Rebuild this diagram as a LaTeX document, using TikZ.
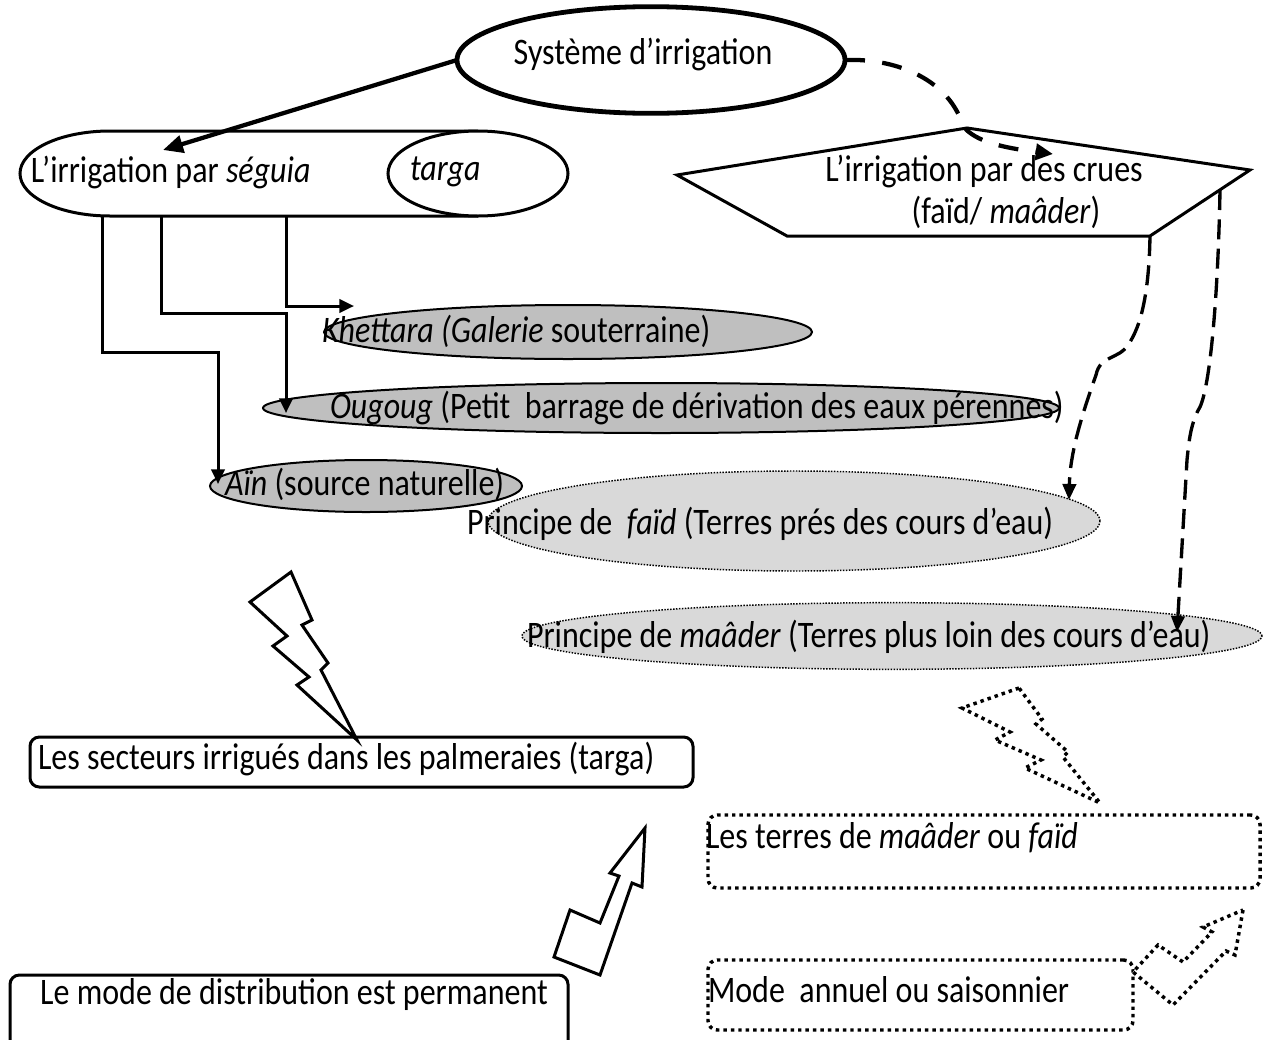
\documentclass[tikz,border=0pt]{standalone}
\usepackage{fontspec}
\usepackage{graphicx}
\setmainfont{Carlito}
\usetikzlibrary{arrows.meta,shapes.geometric,calc}
\definecolor{gA}{RGB}{191,191,191}
\definecolor{gB}{RGB}{217,217,217}
\newcommand{\tx}[1]{\scalebox{1}[1.17]{#1}}
\begin{document}
\begin{tikzpicture}[x=0.75pt,y=-0.75pt,
  font=\fontsize{24}{30}\selectfont,
  every node/.style={inner sep=0pt,outer sep=0pt},
  ellA/.style={ellipse,draw,line width=1.5pt,fill=gA},
  ellB/.style={ellipse,draw,line width=1.1pt,fill=gB,dash pattern=on 1.1pt off 1.1pt},
  conn/.style={line width=2.25pt,-{Triangle[length=11pt,width=10pt]}},
  dconnA/.style={line width=3.2pt,dash pattern=on 15pt off 13pt,-{Triangle[length=13pt,width=12pt]}},
  dconnB/.style={line width=2.5pt,dash pattern=on 15pt off 7pt,-{Triangle[length=12pt,width=10pt]}},
  rbox/.style={draw,rounded corners=7pt,line width=2.25pt},
  dbox/.style={draw,rounded corners=7pt,line width=2.6pt,dash pattern=on 2.6pt off 3pt},
  txt/.style={anchor=west},
  boltS/.style={draw,line width=2.25pt,fill=white,line join=miter},
  boltD/.style={draw,line width=2.6pt,fill=white,line join=miter,dash pattern=on 2.6pt off 3pt}]
\useasboundingbox (0,0) rectangle (1263,1039);
\clip (0,0) rectangle (1263,1039);

% top ellipse
\node[ellipse,draw,line width=3.6pt,minimum width=291pt,minimum height=80pt] (sys) at (651,60) {};
\node (sysT) at (643,55) {\tx{Système d’irrigation}};

% seguia cylinder
\node[minimum width=342pt,minimum height=64pt] (seguia) at (294,173.5) {};
\draw[line width=2.25pt] (478,131) -- (110,131) arc[start angle=270,end angle=90,x radius=90,y radius=42.5] -- (478,216);
\node[ellipse,draw,line width=2.25pt,fill=white,minimum width=135pt,minimum height=63.75pt] (targa) at (478,173.5) {};
\node[txt] (seguiaT) at (31,173) {\tx{L’irrigation par \textit{séguia}}};
\node[txt] (targaT) at (410,172) {\tx{\textit{targa}}};

% pentagon
\coordinate (pL) at (677,175);
\coordinate (pT) at (967,128);
\coordinate (pR0) at (1250,170);
\coordinate (pBR) at (1150,236);
\coordinate (pBL) at (787,236);
\draw[line width=2.25pt,line join=miter] (pL) -- (pT) -- (pR0) -- (pBR) -- (pBL) -- cycle;
\node (crue) at (984,172) {\tx{L’irrigation par des crues}};
\node (crue2) at (1006,212) {\tx{(faïd/ \textit{maâder})}};
\coordinate (pR) at (1220,190);

% gray ellipses
\node[ellA,minimum width=366pt,minimum height=40.5pt] (khet) at (568,332) {};
\node[txt] (khetT) at (322,331) {\tx{\textit{Khettara (Galerie} souterraine)}};
\node[ellA,minimum width=597pt,minimum height=37.5pt] (oug) at (661,408) {};
\node[txt] (ougT) at (330,408) {\tx{\textit{Ougoug} (Petit\ \ barrage de dérivation des eaux pérennes)}};
\node[ellA,minimum width=234pt,minimum height=39pt] (ain) at (366,486) {};
\node[txt] (ainT) at (225,484) {\tx{\textit{Aïn} (source naturelle)}};

% light gray dotted ellipses
\node[ellB,minimum width=459pt,minimum height=75pt] (faid) at (794,521) {};
\node[txt] (faidT) at (467,524) {\tx{Principe de\ \ \textit{faïd} (Terres prés des cours d’eau)}};
\node[ellB,minimum width=555pt,minimum height=50pt] (maad) at (892,636) {};
\node[txt] (maadT) at (527,637) {\tx{Principe de \textit{maâder} (Terres plus loin des cours d’eau)}};

% connectors from seguia
\coordinate (s1) at (102,216);
\coordinate (s2) at (161,216);
\coordinate (s3) at (286,216);
\coordinate (b1) at (218,352);
\coordinate (b2) at (286,313);
\coordinate (khetIn) at (354,306);
\coordinate (ougIn) at (286,413);
\coordinate (ainIn) at (218,484);
\draw[conn] (s3) |- (khetIn);
\draw[conn] (s2) |- (b2) -- (ougIn);
\draw[conn] (s1) |- (b1) -- (ainIn);

% sys -> seguia
\coordinate (sgTop) at (163,150);
\draw[line width=3.2pt,-{Triangle[length=15pt,width=13pt]}] (sys.west) -- (sgTop);

% dashed connectors
\coordinate (crueIn) at (1053,154);
\coordinate (faidIn) at (1069,500);
\coordinate (maadIn) at (1177,632);
\draw[dconnA] (sys.east) .. controls (900,58) and (950,82) .. (963,126) .. controls (975,142) and (1005,148) .. (crueIn);
\draw[dconnB] (pBR) .. controls (1149,290) and (1142,325) .. (1128,345) .. controls (1118,360) and (1100,355) .. (1096,375) .. controls (1080,420) and (1070,455) .. (faidIn);
\draw[dconnB] (pR) .. controls (1218,300) and (1210,385) .. (1200,407) .. controls (1191,422) and (1189,440) .. (1187,460) -- (maadIn);

% boxes
\node[rbox,minimum width=497.25pt,minimum height=37.5pt] (sect) at (361.5,762) {};
\node[txt] (sectT) at (38,759) {\tx{Les secteurs irrigués dans les palmeraies (targa)}};
\node[rbox,minimum width=418.5pt,minimum height=75pt] (perm) at (289,1025) {};
\node (permT) at (294,995) {\tx{Le mode de distribution est permanent}};
\node[dbox,minimum width=414pt,minimum height=54.75pt] (terres) at (984,851.5) {};
\node[txt] (terresT) at (706,838) {\tx{Les terres de \textit{maâder} ou \textit{faïd}}};
\node[dbox,minimum width=318.75pt,minimum height=52.5pt] (annuel) at (920.5,995) {};
\node[txt] (annuelT) at (708,990) {\tx{Mode\ \ annuel ou saisonnier}};

% lightning bolts
\draw[boltS] (291,572) -- (250,602) -- (287,636) -- (273,646) -- (309,677) -- (297,685) -- (357,740) -- (321,670) -- (328,663) -- (302,625) -- (312,620) -- cycle;
\draw[boltD] (1019,688) -- (962,708) -- (1010,732) -- (995,740) -- (1041,760) -- (1025,768) -- (1100,803) -- (1063,757) -- (1068,752) -- (1036,724) -- (1042,719) -- cycle;

% block arrows
\draw[boltS] (645,828) -- (642,887) -- (632,883) -- (600,975) -- (554,957) -- (570,910) -- (600,923) -- (619,876) -- (610,873) -- cycle;
\draw[boltD] (1243,910) -- (1235,955) -- (1226,951) -- (1173,1005) -- (1133,972) -- (1158,945) -- (1183,962) -- (1212,932) -- (1203,927) -- cycle;
\end{tikzpicture}
\end{document}
